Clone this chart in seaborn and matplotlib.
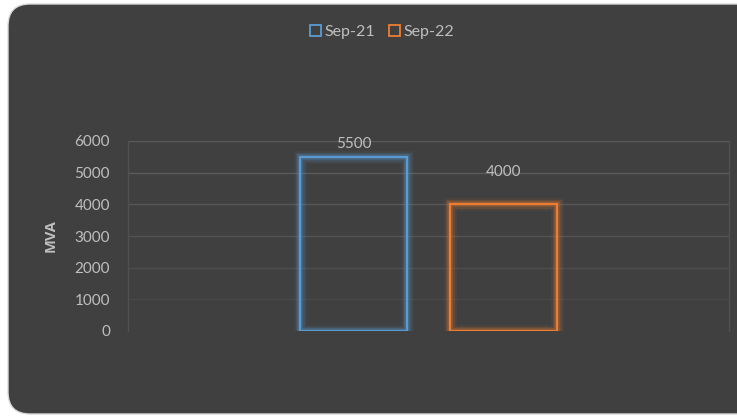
import pandas as pd
import matplotlib.pyplot as plt
import matplotlib.patheffects as pe
from matplotlib.patches import FancyBboxPatch
import seaborn as sns

# Data
categories = ["MVA"]
series = ["Sep-21", "Sep-22"]
values = [5500, 4000]
colors = ["#5B9BD5", "#ED7D31"]
yticks = [0, 1000, 2000, 3000, 4000, 5000, 6000]

df = pd.DataFrame({"cat": categories * len(series), "series": series, "value": values})

sns.set_style("dark")
plt.rcParams['font.family'] = ['Lato', 'DejaVu Sans']
txt = "#BFBFBF"
bg = "#404040"

fig = plt.figure(figsize=(7.37, 4.16), dpi=100)
fig.patch.set_facecolor("white")

# rounded chart background
card = FancyBboxPatch((8 / 737, 2 / 416), 1.2, 1 - 6 / 416,
                      boxstyle="round,pad=0,rounding_size=0.03",
                      transform=fig.transFigure, facecolor=bg, edgecolor="#d9d9d9",
                      linewidth=1.0, mutation_aspect=737 / 416, zorder=-10)
fig.add_artist(card)

ax = fig.add_axes([128 / 737, 85 / 416, (729 - 128) / 737, (331 - 141) / 416])
ax.set_facecolor(bg)
ax.patch.set_alpha(0)

sns.barplot(data=df, x="cat", y="value", hue="series", palette=colors,
            fill=False, width=0.5, gap=0.29, linewidth=1.6, ax=ax, legend=False)

# glow around the bars
for patch, c in zip(ax.patches, colors):
    patch.set_edgecolor(c)
    patch.set_path_effects([
        pe.Stroke(linewidth=9, foreground=c, alpha=0.08),
        pe.Stroke(linewidth=6.5, foreground=c, alpha=0.14),
        pe.Stroke(linewidth=4, foreground=c, alpha=0.25),
        pe.Normal(),
    ])

# value labels
for patch, v, off in zip(ax.patches, values, [200, 800]):
    ax.text(patch.get_x() + patch.get_width() / 2, v + off, f"{v}",
            ha="center", va="bottom", color=txt, fontsize=11)

ax.set_ylim(0, 6000)
ax.set_xlim(-0.5, 0.5)
ax.set_yticks(yticks)
ax.set_yticklabels([str(t) for t in yticks])
ax.set_xticks([])
ax.set_xlabel("")
ax.set_ylabel("MVA", color=txt, fontsize=10.5, fontweight="bold",
              fontfamily="Open Sans", labelpad=12)
ax.tick_params(axis="y", colors=txt, labelsize=11, length=0, pad=13)

ax.yaxis.grid(True, color="#5A5A5A", linewidth=1.0)
for line, t in zip(ax.yaxis.get_gridlines(), yticks):
    line.set_alpha(min(1.0, 0.15 + t / 5000))
for s in ["top", "bottom"]:
    ax.spines[s].set_visible(False)
for s in ["left", "right"]:
    ax.spines[s].set_visible(True)
    ax.spines[s].set_color("#505050")
    ax.spines[s].set_linewidth(1.0)

# legend with hollow squares
handles = [plt.Rectangle((0, 0), 1, 1, facecolor="none", edgecolor=c, linewidth=1.3) for c in colors]
fig.legend(handles, series, loc="center", bbox_to_anchor=(382 / 737, 1 - 32 / 416),
           ncol=2, frameon=False, fontsize=11.5, labelcolor=txt,
           handlelength=0.7, handleheight=0.7, handletextpad=0.2, columnspacing=0.9)

fig.savefig("out.png", dpi=100, facecolor=fig.get_facecolor())
